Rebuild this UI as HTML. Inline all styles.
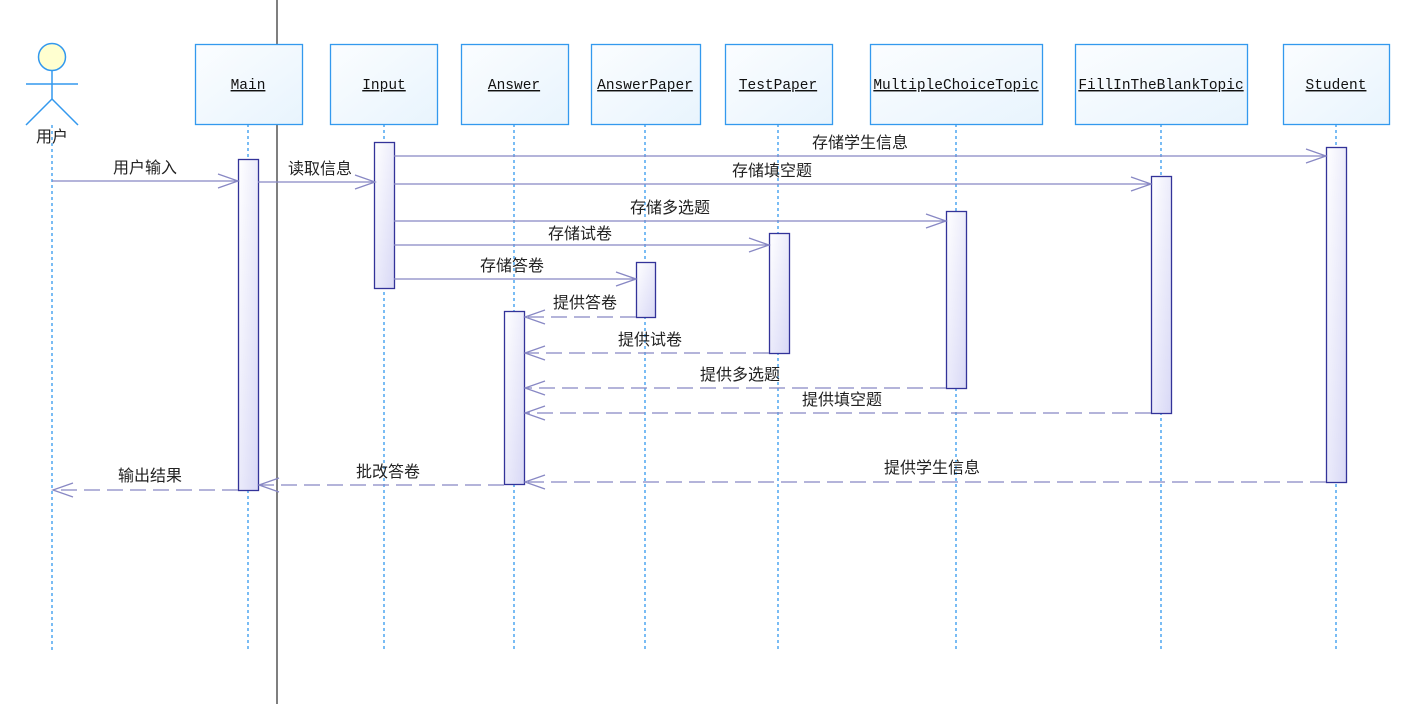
<!DOCTYPE html>
<html><head><meta charset="utf-8"><style>
html,body{margin:0;padding:0;background:#fff;width:1402px;height:704px;overflow:hidden}
svg text{font-family:"Liberation Sans","Noto Sans CJK SC",sans-serif;font-size:16px;fill:#222}
svg text.m{font-family:"Liberation Mono",monospace;font-size:14.5px;text-decoration:underline;fill:#111}
</style></head><body>
<svg width="1402" height="704" xmlns="http://www.w3.org/2000/svg">
<defs>
<linearGradient id="bx" x1="0" y1="0" x2="1" y2="1"><stop offset="0" stop-color="#fbfdff"/><stop offset="1" stop-color="#e8f4fd"/></linearGradient>
<linearGradient id="ac" x1="0" y1="0" x2="1" y2="1"><stop offset="0" stop-color="#ffffff"/><stop offset="1" stop-color="#d8d8f6"/></linearGradient>
</defs>
<line x1="277" y1="0" x2="277" y2="704" stroke="#555" stroke-width="1.5"/>
<g stroke="#3399ee" stroke-width="1.3" stroke-dasharray="3,3" fill="none">
<line x1="52" y1="125" x2="52" y2="652"/>
<line x1="248" y1="124" x2="248" y2="652"/>
<line x1="384" y1="124" x2="384" y2="652"/>
<line x1="514" y1="124" x2="514" y2="652"/>
<line x1="645" y1="124" x2="645" y2="652"/>
<line x1="778" y1="124" x2="778" y2="652"/>
<line x1="956" y1="124" x2="956" y2="652"/>
<line x1="1161" y1="124" x2="1161" y2="652"/>
<line x1="1336" y1="124" x2="1336" y2="652"/>
</g>
<g fill="url(#bx)" stroke="#3399ee" stroke-width="1.3">
<rect x="195.5" y="44.5" width="107" height="80"/>
<rect x="330.5" y="44.5" width="107" height="80"/>
<rect x="461.5" y="44.5" width="107" height="80"/>
<rect x="591.5" y="44.5" width="109" height="80"/>
<rect x="725.5" y="44.5" width="107" height="80"/>
<rect x="870.5" y="44.5" width="172" height="80"/>
<rect x="1075.5" y="44.5" width="172" height="80"/>
<rect x="1283.5" y="44.5" width="106" height="80"/>
</g>
<g text-anchor="middle">
<text class="m" x="248" y="89">Main</text>
<text class="m" x="384" y="89">Input</text>
<text class="m" x="514" y="89">Answer</text>
<text class="m" x="645" y="89">AnswerPaper</text>
<text class="m" x="778" y="89">TestPaper</text>
<text class="m" x="956" y="89">MultipleChoiceTopic</text>
<text class="m" x="1161" y="89">FillInTheBlankTopic</text>
<text class="m" x="1336" y="89">Student</text>
</g>
<circle cx="52" cy="57" r="13.5" fill="#ffffd0" stroke="#3399ee" stroke-width="1.5"/>
<g stroke="#3399ee" stroke-width="1.5"><line x1="52" y1="71" x2="52" y2="99"/><line x1="26" y1="84" x2="78" y2="84"/><line x1="52" y1="99" x2="26" y2="125"/><line x1="52" y1="99" x2="78" y2="125"/></g>
<text x="52" y="142" text-anchor="middle">用户</text>
<g fill="url(#ac)" stroke="#333399" stroke-width="1.3">
<rect x="238.5" y="159.5" width="20" height="331"/>
<rect x="374.5" y="142.5" width="20" height="146"/>
<rect x="1326.5" y="147.5" width="20" height="335"/>
<rect x="1151.5" y="176.5" width="20" height="237"/>
<rect x="946.5" y="211.5" width="20" height="177"/>
<rect x="769.5" y="233.5" width="20" height="120"/>
<rect x="636.5" y="262.5" width="19" height="55"/>
<rect x="504.5" y="311.5" width="20" height="173"/>
</g>
<g stroke="#8888c4" stroke-width="1.3" fill="none">
<line x1="52" y1="181" x2="238" y2="181"/><polyline points="218,174 238,181 218,188"/>
<line x1="258" y1="182" x2="375" y2="182"/><polyline points="355,175 375,182 355,189"/>
<line x1="394" y1="156" x2="1326" y2="156"/><polyline points="1306,149 1326,156 1306,163"/>
<line x1="394" y1="184" x2="1151" y2="184"/><polyline points="1131,177 1151,184 1131,191"/>
<line x1="394" y1="221" x2="946" y2="221"/><polyline points="926,214 946,221 926,228"/>
<line x1="394" y1="245" x2="769" y2="245"/><polyline points="749,238 769,245 749,252"/>
<line x1="394" y1="279" x2="636" y2="279"/><polyline points="616,272 636,279 616,286"/>
</g>
<g stroke="#8888c4" stroke-width="1.3" fill="none" stroke-dasharray="16,7">
<line x1="636" y1="317" x2="525" y2="317"/>
<line x1="769" y1="353" x2="525" y2="353"/>
<line x1="946" y1="388" x2="525" y2="388"/>
<line x1="1151" y1="413" x2="525" y2="413"/>
<line x1="1326" y1="482" x2="525" y2="482"/>
<line x1="504" y1="485" x2="259" y2="485"/>
<line x1="238" y1="490" x2="53" y2="490"/>
</g>
<g stroke="#8888c4" stroke-width="1.3" fill="none">
<polyline points="545,310 525,317 545,324"/>
<polyline points="545,346 525,353 545,360"/>
<polyline points="545,381 525,388 545,395"/>
<polyline points="545,406 525,413 545,420"/>
<polyline points="545,475 525,482 545,489"/>
<polyline points="279,478 259,485 279,492"/>
<polyline points="73,483 53,490 73,497"/>
</g>
<g text-anchor="middle">
<text x="145" y="173">用户输入</text>
<text x="320" y="174">读取信息</text>
<text x="860" y="148">存储学生信息</text>
<text x="772" y="176">存储填空题</text>
<text x="670" y="213">存储多选题</text>
<text x="580" y="239">存储试卷</text>
<text x="512" y="271">存储答卷</text>
<text x="585" y="308">提供答卷</text>
<text x="650" y="345">提供试卷</text>
<text x="740" y="380">提供多选题</text>
<text x="842" y="405">提供填空题</text>
<text x="932" y="473">提供学生信息</text>
<text x="388" y="477">批改答卷</text>
<text x="150" y="481">输出结果</text>
</g>
</svg>
</body></html>
